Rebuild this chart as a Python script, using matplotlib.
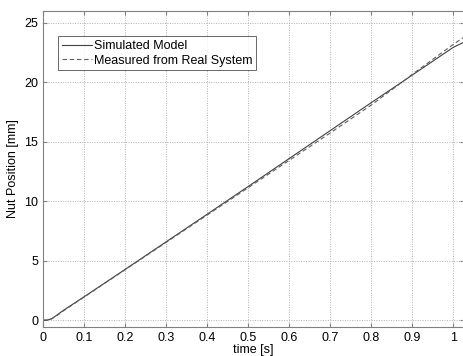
import matplotlib
matplotlib.use("Agg")
import matplotlib.pyplot as plt
import numpy as np

plt.rcParams['font.family'] = ['Liberation Sans', 'DejaVu Sans']

t = [0.0, 0.01, 0.02, 0.03, 0.05, 0.1, 0.2, 0.3, 0.4, 0.5, 0.6, 0.7, 0.8, 0.88, 0.9, 1.0, 1.03]
sim = [0.0, 0.02, 0.12, 0.35, 0.85, 1.98, 4.28, 6.6, 8.92, 11.25, 13.6, 15.95, 18.3, 20.15, 20.62, 22.95, 23.45]
meas = [0.0, 0.02, 0.1, 0.3, 0.8, 1.95, 4.25, 6.55, 8.85, 11.15, 13.45, 15.75, 18.1, 20.15, 20.68, 23.2, 23.9]

xticks = [0, 0.1, 0.2, 0.3, 0.4, 0.5, 0.6, 0.7, 0.8, 0.9, 1]
xticklabels = ['0', '0.1', '0.2', '0.3', '0.4', '0.5', '0.6', '0.7', '0.8', '0.9', '1']
yticks = [0, 5, 10, 15, 20, 25]

fig = plt.figure(figsize=(4.64, 3.56), dpi=100)
ax = fig.add_axes([0.093, 0.082, 0.907, 0.887])

ax.plot(t, sim, color='#404040', lw=0.8, ls='-', label='Simulated Model')
ax.plot(t, meas, color='#606060', lw=0.8, ls=(0, (4, 2.5)), label='Measured from Real System')

ax.set_xlim(0, 1.026)
ax.set_ylim(-0.55, 26)
ax.set_xticks(xticks)
ax.set_xticklabels(xticklabels)
ax.set_yticks(yticks)
ax.grid(True, ls=(0, (1, 1.5)), color='#b0b0b0', lw=0.7)
ax.tick_params(direction='in', top=True, right=True, labelsize=9, color='#808080', length=3)
for s in ax.spines.values():
    s.set_color('#808080')
ax.set_xlabel('time [s]', fontsize=9, labelpad=0)
ax.set_ylabel('Nut Position [mm]', fontsize=9, labelpad=4)

leg = ax.legend(loc='upper left', bbox_to_anchor=(0.035, 0.92), fontsize=9, frameon=True,
                fancybox=False, edgecolor='#404040', handlelength=2.4, handletextpad=0.2,
                borderpad=0.3, labelspacing=0.2, borderaxespad=0)
leg.get_frame().set_linewidth(0.7)

fig.savefig('out.png', dpi=100)
